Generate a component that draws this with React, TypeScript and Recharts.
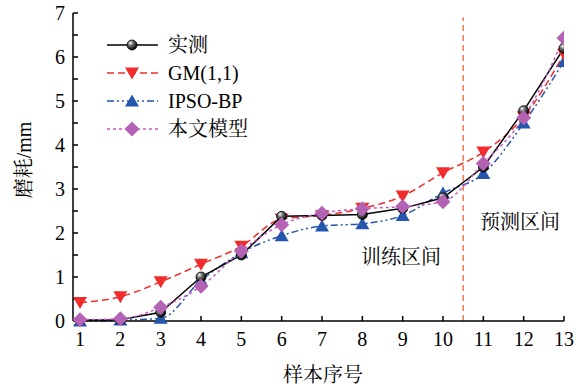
import React from 'react';
import { LineChart, Line, XAxis, YAxis, ReferenceLine, ReferenceDot, Legend } from 'recharts';

const samples = [1, 2, 3, 4, 5, 6, 7, 8, 9, 10, 11, 12, 13];
const measured = [0.02, 0.03, 0.2, 1.0, 1.5, 2.38, 2.4, 2.42, 2.56, 2.8, 3.5, 4.78, 6.2];
const gm11 = [0.42, 0.55, 0.89, 1.29, 1.7, 2.32, 2.4, 2.56, 2.84, 3.37, 3.84, 4.64, 6.06];
const ipsoBp = [0.0, 0.02, 0.06, 0.92, 1.55, 1.94, 2.16, 2.21, 2.4, 2.91, 3.35, 4.5, 5.9];
const proposed = [0.03, 0.05, 0.31, 0.79, 1.59, 2.19, 2.45, 2.55, 2.6, 2.71, 3.58, 4.62, 6.43];
const yTicks = [0, 0.5, 1, 1.5, 2, 2.5, 3, 3.5, 4, 4.5, 5, 5.5, 6, 6.5, 7];

const data = samples.map((s, i) => ({
  x: s,
  measured: measured[i],
  gm: gm11[i],
  ipso: ipsoBp[i],
  prop: proposed[i],
}));

const FONT = "'Liberation Serif', 'Times New Roman', 'Noto Serif CJK SC', 'Noto Sans CJK SC', serif";
const RED = '#f02c2c';
const BLUE = '#2456ad';
const MAG = '#b462b4';
const MAGLINE = '#c85ac8';

const Ball = ({ cx, cy }: any) => (
  <g>
    <circle cx={cx} cy={cy} r={5} fill="url(#ballGrad)" stroke="#000" strokeWidth={0.8} />
  </g>
);
const TriDown = ({ cx, cy, fill }: any) => (
  <polygon points={`${cx - 7},${cy - 5.5} ${cx + 7},${cy - 5.5} ${cx},${cy + 6.5}`} fill={fill} />
);
const TriUp = ({ cx, cy, fill }: any) => (
  <polygon points={`${cx - 7},${cy + 5.5} ${cx + 7},${cy + 5.5} ${cx},${cy - 6.5}`} fill={fill} />
);
const Diamond = ({ cx, cy, fill }: any) => (
  <polygon points={`${cx},${cy - 7.5} ${cx + 7.5},${cy} ${cx},${cy + 7.5} ${cx - 7.5},${cy}`} fill={fill} />
);

const legendItems = [
  { name: '实测', color: '#000', dash: undefined, marker: 'ball' },
  { name: 'GM(1,1)', color: RED, dash: '7 4', marker: 'down' },
  { name: 'IPSO-BP', color: BLUE, dash: '7 3 2 3 2 3', marker: 'up' },
  { name: '本文模型', color: MAGLINE, dash: '3 3', marker: 'diamond' },
];

const LegendContent = () => (
  <svg width={170} height={120} style={{ display: 'block', overflow: 'visible' }}>
    {legendItems.map((it, i) => {
      const y = 15 + i * 28;
      const mx = 32;
      return (
        <g key={it.name}>
          <line x1={7} x2={58} y1={y} y2={y} stroke={it.color} strokeWidth={1.5} strokeDasharray={it.dash} />
          {it.marker === 'ball' && <Ball cx={mx} cy={y} />}
          {it.marker === 'down' && <TriDown cx={mx} cy={y} fill={RED} />}
          {it.marker === 'up' && <TriUp cx={mx} cy={y} fill={BLUE} />}
          {it.marker === 'diamond' && <Diamond cx={mx} cy={y} fill={MAG} />}
          <text x={68} y={y} dy="0.35em" fontSize={20} fontFamily={FONT} fill="#000">{it.name}</text>
        </g>
      );
    })}
  </svg>
);

const yFmt = (v: number) => (Number.isInteger(v) ? String(v) : '');

export default function App() {
  return (
    <div style={{ position: 'absolute', left: 0, top: 0 }}>
      <LineChart width={587} height={389} data={data} margin={{ top: 13, right: 23, left: 0, bottom: 0 }}>
        <defs>
          <radialGradient id="ballGrad" cx="35%" cy="30%" r="70%">
            <stop offset="0%" stopColor="#ffffff" />
            <stop offset="35%" stopColor="#777" />
            <stop offset="100%" stopColor="#000" />
          </radialGradient>
        </defs>
        <XAxis
          dataKey="x"
          type="number"
          domain={[0.826, 13]}
          ticks={samples}
          allowDataOverflow
          height={68}
          stroke="#000"
          strokeWidth={1.5}
          tickSize={-5}
          tickMargin={16}
          tick={{ fontSize: 20, fontFamily: FONT, fill: '#000' }}
          label={{
            content: () => (
              <text x={323} y={375} dy="0.35em" textAnchor="middle" fontSize={20} fontFamily={FONT} fill="#000">样本序号</text>
            ),
          }}
        />
        <YAxis
          type="number"
          domain={[0, 7]}
          ticks={yTicks}
          interval={0}
          width={73}
          stroke="#000"
          strokeWidth={1.5}
          tickSize={-5}
          tickMargin={13}
          tickFormatter={yFmt}
          tick={{ fontSize: 20, fontFamily: FONT, fill: '#000' }}
          label={{
            content: () => (
              <text x={24} y={160} dy="0.35em" textAnchor="middle" transform="rotate(-90 24 160)" fontSize={20} fontFamily={FONT} fill="#000">磨耗/mm</text>
            ),
          }}
        />
        <ReferenceLine
          segment={[{ x: 10.5, y: 0 }, { x: 10.5, y: 6.9 }]}
          stroke="#f07850"
          strokeWidth={1.5}
          strokeDasharray="6 4"
        />
        <ReferenceDot x={8.96} y={1.45} r={0} fill="none" stroke="none"
          label={{ value: '训练区间', position: 'center', fontSize: 20, fontFamily: FONT, fill: '#000' }} />
        <ReferenceDot x={11.91} y={2.25} r={0} fill="none" stroke="none"
          label={{ value: '预测区间', position: 'center', fontSize: 20, fontFamily: FONT, fill: '#000' }} />
        <Line type="monotone" dataKey="ipso" stroke={BLUE} strokeWidth={1.5} strokeDasharray="7 3 2 3 2 3"
          dot={(p: any) => <TriUp key={p.index} cx={p.cx} cy={p.cy} fill={BLUE} />} isAnimationActive={false} />
        <Line type="monotone" dataKey="gm" stroke={RED} strokeWidth={1.5} strokeDasharray="7 4"
          dot={(p: any) => <TriDown key={p.index} cx={p.cx} cy={p.cy} fill={RED} />} isAnimationActive={false} />
        <Line type="linear" dataKey="measured" stroke="#000" strokeWidth={1.5}
          dot={(p: any) => <Ball key={p.index} cx={p.cx} cy={p.cy} />} isAnimationActive={false} />
        <Line type="monotone" dataKey="prop" stroke={MAGLINE} strokeWidth={1.5} strokeDasharray="3 3"
          dot={(p: any) => <Diamond key={p.index} cx={p.cx} cy={p.cy} fill={MAG} />} isAnimationActive={false} />
        <Legend
          layout="vertical"
          align="center"
          verticalAlign="middle"
          content={() => <LegendContent />}
          wrapperStyle={{ left: 100, top: 30, width: 170, height: 120 }}
        />
      </LineChart>
    </div>
  );
}
